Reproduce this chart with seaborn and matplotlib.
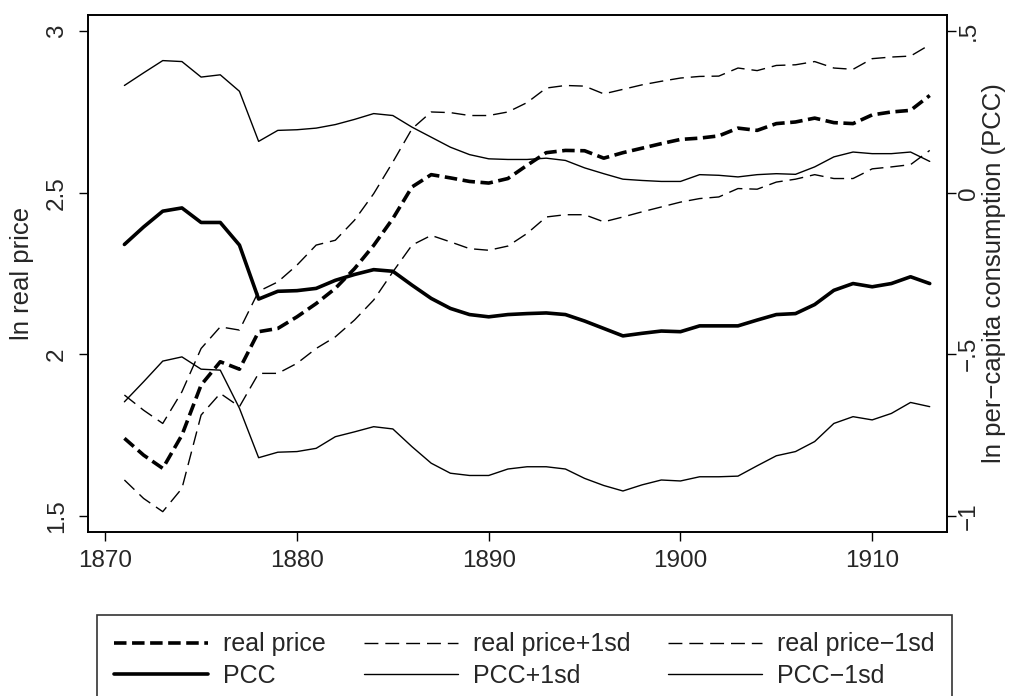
import matplotlib
matplotlib.use("Agg")
import matplotlib.pyplot as plt
import seaborn as sns

# values
years = list(range(1871, 1914))

real_price = [1.740, 1.688, 1.647, 1.750, 1.905, 1.977, 1.954, 2.070, 2.080, 2.116, 2.157,
              2.204, 2.265, 2.337, 2.420, 2.518, 2.556, 2.546, 2.535, 2.530, 2.544, 2.585,
              2.624, 2.631, 2.630, 2.607, 2.624, 2.638, 2.652, 2.665, 2.669, 2.676, 2.700,
              2.693, 2.714, 2.719, 2.731, 2.717, 2.714, 2.741, 2.750, 2.755, 2.801]
real_price_hi = [1.874, 1.827, 1.786, 1.884, 2.018, 2.085, 2.075, 2.195, 2.224, 2.276, 2.338,
                 2.353, 2.415, 2.497, 2.595, 2.698, 2.750, 2.748, 2.739, 2.739, 2.750, 2.779,
                 2.824, 2.832, 2.830, 2.806, 2.820, 2.834, 2.845, 2.855, 2.860, 2.861, 2.886,
                 2.878, 2.894, 2.896, 2.906, 2.886, 2.882, 2.915, 2.920, 2.923, 2.958]
real_price_lo = [1.611, 1.554, 1.513, 1.585, 1.812, 1.879, 1.838, 1.941, 1.941, 1.972, 2.018,
                 2.054, 2.106, 2.168, 2.255, 2.338, 2.368, 2.348, 2.327, 2.322, 2.335, 2.374,
                 2.425, 2.432, 2.432, 2.410, 2.425, 2.441, 2.456, 2.471, 2.482, 2.487, 2.513,
                 2.511, 2.533, 2.542, 2.556, 2.544, 2.544, 2.574, 2.580, 2.587, 2.631]

pcc = [-0.160, -0.106, -0.057, -0.047, -0.092, -0.092, -0.162, -0.329, -0.305, -0.303, -0.296,
       -0.271, -0.253, -0.238, -0.243, -0.286, -0.327, -0.358, -0.377, -0.384, -0.377, -0.374,
       -0.372, -0.377, -0.397, -0.420, -0.443, -0.435, -0.428, -0.430, -0.412, -0.412, -0.412,
       -0.394, -0.377, -0.374, -0.346, -0.302, -0.281, -0.291, -0.281, -0.260, -0.281]
pcc_hi = [0.332, 0.371, 0.409, 0.406, 0.358, 0.365, 0.314, 0.159, 0.193, 0.195, 0.200,
          0.211, 0.227, 0.245, 0.239, 0.203, 0.172, 0.141, 0.118, 0.105, 0.103, 0.103,
          0.107, 0.100, 0.077, 0.059, 0.042, 0.038, 0.035, 0.035, 0.056, 0.054, 0.049,
          0.056, 0.059, 0.057, 0.080, 0.111, 0.126, 0.121, 0.121, 0.126, 0.097]
pcc_lo = [-0.647, -0.585, -0.521, -0.508, -0.546, -0.549, -0.667, -0.820, -0.803, -0.801, -0.791,
          -0.755, -0.740, -0.724, -0.731, -0.786, -0.837, -0.868, -0.875, -0.875, -0.855, -0.848,
          -0.848, -0.855, -0.884, -0.906, -0.923, -0.904, -0.889, -0.892, -0.879, -0.879, -0.877,
          -0.845, -0.814, -0.801, -0.770, -0.714, -0.693, -0.703, -0.683, -0.649, -0.662]

x_ticks = [1870, 1880, 1890, 1900, 1910]
left_ticks = [1.5, 2, 2.5, 3]
left_labels = ["1.5", "2", "2.5", "3"]
right_ticks = [-1, -0.5, 0, 0.5]
right_labels = ["\u22121", "\u2212.5", "0", ".5"]

sns.set_style("ticks")
plt.rcParams['font.family'] = ['Liberation Sans', 'DejaVu Sans']
plt.rcParams['lines.scale_dashes'] = False

fig = plt.figure(figsize=(10.1, 6.96), dpi=100)
ax = fig.add_axes([0.0871, 0.2356, 0.8505, 0.7428])
ax2 = ax.twinx()

thick_dash = (0, (9, 4))
thin_dash = (0, (10, 5))

sns.lineplot(x=years, y=real_price, ax=ax, color='black', lw=2.6, linestyle=thick_dash)
h_rp = ax.lines[-1]
sns.lineplot(x=years, y=real_price_hi, ax=ax, color='black', lw=1.0, linestyle=thin_dash)
h_rph = ax.lines[-1]
sns.lineplot(x=years, y=real_price_lo, ax=ax, color='black', lw=1.0, linestyle=thin_dash)
h_rpl = ax.lines[-1]

sns.lineplot(x=years, y=pcc, ax=ax2, color='black', lw=2.6)
h_p = ax2.lines[-1]
sns.lineplot(x=years, y=pcc_hi, ax=ax2, color='black', lw=1.0)
h_ph = ax2.lines[-1]
sns.lineplot(x=years, y=pcc_lo, ax=ax2, color='black', lw=1.0)
h_pl = ax2.lines[-1]

ax.set_xlim(1869.1, 1913.9)
ax.set_ylim(1.45, 3.05)
ax2.set_ylim(-1.05, 0.55)

ax.set_xticks(x_ticks)
ax.set_xticklabels([str(t) for t in x_ticks], fontsize=17.5)
ax.set_yticks(left_ticks)
ax.set_yticklabels(left_labels, fontsize=17.5, rotation=90, va='center')
ax2.set_yticks(right_ticks)
ax2.set_yticklabels(right_labels, fontsize=17.5, rotation=90, va='center')

for a in (ax, ax2):
    a.tick_params(direction='out', length=6.7, width=1.0, color='black')
    for s in a.spines.values():
        s.set_visible(True)
        s.set_linewidth(1.2)
        s.set_color('black')
ax.tick_params(axis='x', pad=6.5)
ax.tick_params(axis='y', pad=7.5)
ax2.tick_params(axis='y', pad=1)

ax.set_xlabel("")
ax.set_ylabel("ln real price", fontsize=18.5)
ax.yaxis.set_label_coords(-0.0629, 0.5)
ax2.set_ylabel("ln per\u2212capita consumption (PCC)", fontsize=18.5)
ax2.yaxis.set_label_coords(1.0407, 0.5)

handles = [h_rp, h_p, h_rph, h_ph, h_rpl, h_pl]
labels = ["real price", "PCC", "real price+1sd", "PCC+1sd", "real price\u22121sd", "PCC\u22121sd"]
leg = fig.legend(handles, labels, loc='upper left', ncol=3,
                 bbox_to_anchor=(0.096, 1 - 615 / 696),
                 fontsize=18, handlelength=3.76, handletextpad=0.6,
                 columnspacing=1.5, labelspacing=0.3, borderpad=0.7,
                 borderaxespad=0, frameon=True, fancybox=False, edgecolor='black')
leg.get_frame().set_linewidth(1.2)

fig.savefig("out.png", dpi=100, facecolor='white')
